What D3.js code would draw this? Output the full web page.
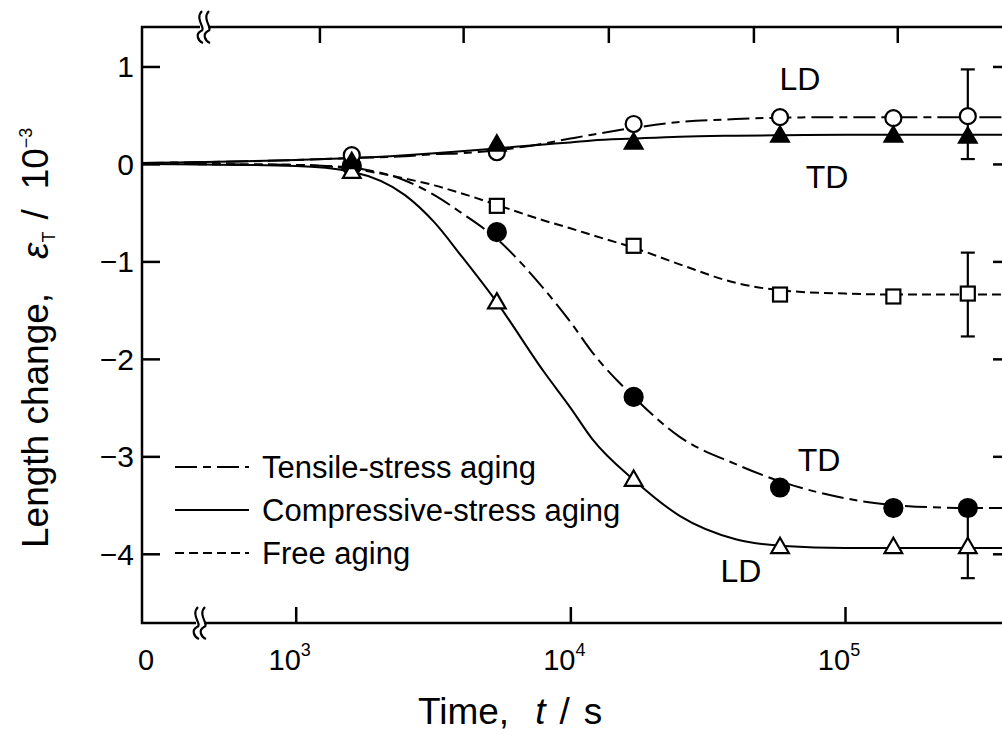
<!DOCTYPE html>
<meta charset="utf-8">
<script src="https://d3js.org/d3.v7.min.js"></script>
<style>
  body { margin: 0; background: #fff; }
  text { font-family: "Liberation Sans", Arial, sans-serif; fill: #000; }
</style>
<div id="chart"></div>
<script>

// measured times (s) of the aging tests
var times = [1600, 5400, 17000, 58000, 150000, 280000];

// measured length change (x 10^-3)
var tensileLD = [0.09, 0.12, 0.41, 0.48, 0.47, 0.49];
var tensileTD = [-0.02, -0.70, -2.39, -3.32, -3.53, -3.53];
var compLD    = [-0.08, -1.42, -3.24, -3.93, -3.93, -3.93];
var compTD    = [0.02, 0.20, 0.22, 0.29, 0.29, 0.28];
var freeAging = [0.00, -0.43, -0.84, -1.34, -1.36, -1.33];

// error bars at the last time
var errTime = 280000;
var errLow  = {tensileLD: 0.05, freeAging: -1.77, compLD: -4.25};
var errHigh = {tensileLD: 0.97, freeAging: -0.91, compLD: -3.57};

// fitted curves
var curveT = [0, 1000, 1600, 2500, 3200, 4000, 5400, 8000, 10000, 12000, 17000, 25000, 40000, 60000, 100000, 150000, 280000, 420000];
var fitTensileLD = [0.01, 0.04, 0.06, 0.08, 0.10, 0.11, 0.14, 0.21, 0.26, 0.30, 0.37, 0.43, 0.46, 0.475, 0.48, 0.48, 0.48, 0.48];
var fitTensileTD = [0.0, -0.01, -0.04, -0.17, -0.32, -0.50, -0.77, -1.28, -1.62, -1.93, -2.39, -2.80, -3.08, -3.27, -3.43, -3.50, -3.53, -3.53];
var fitCompLD    = [0.0, -0.02, -0.08, -0.32, -0.60, -0.94, -1.42, -2.13, -2.50, -2.82, -3.24, -3.61, -3.85, -3.92, -3.94, -3.94, -3.94, -3.94];
var fitCompTD    = [0.01, 0.04, 0.06, 0.09, 0.11, 0.13, 0.16, 0.20, 0.22, 0.24, 0.26, 0.28, 0.29, 0.295, 0.30, 0.30, 0.30, 0.30];
var fitFree      = [0.0, -0.01, -0.05, -0.15, -0.22, -0.30, -0.42, -0.58, -0.66, -0.73, -0.86, -1.03, -1.22, -1.30, -1.33, -1.34, -1.34, -1.34];

var yTicks = [1, 0, -1, -2, -3, -4];
var xTicks = [1e3, 1e4, 1e5];
var topTicks = [1220, 4070, 13750, 46400, 155000];

var W = 1002, H = 734;
var mLeft = 142, mRight = 1011, mTop = 27, mBottom = 623;

var svg = d3.select("#chart").append("svg")
  .attr("width", W).attr("height", H);

var xLog = d3.scaleLog().domain([1e3, 1e5]).range([295.7, 845]);
function X(t) { return t === 0 ? mLeft : xLog(t); }
var y = d3.scaleLinear().domain([-4.71, 1.405]).range([mBottom, mTop]);

svg.append("clipPath").attr("id", "clip")
  .append("rect").attr("x", mLeft).attr("y", mTop)
  .attr("width", mRight - mLeft).attr("height", mBottom - mTop);

// axes (ticks inward)
function styleAxis(g) {
  g.select(".domain").remove();
  g.selectAll(".tick line").attr("stroke", "#000").attr("stroke-width", 2.5);
  g.selectAll(".tick text").remove();
}
svg.append("g").attr("transform", "translate(" + mLeft + ",0)")
  .call(d3.axisLeft(y).tickValues(yTicks).tickSize(-18)).call(styleAxis);
svg.append("g").attr("transform", "translate(" + mRight + ",0)")
  .call(d3.axisRight(y).tickValues(yTicks).tickSize(-18)).call(styleAxis);
svg.append("g").attr("transform", "translate(0," + mBottom + ")")
  .call(d3.axisBottom(xLog).tickValues(xTicks).tickSize(-16)).call(styleAxis);
svg.append("g").attr("transform", "translate(0," + mTop + ")")
  .call(d3.axisTop(xLog).tickValues(topTicks).tickSize(-16)).call(styleAxis);

// frame
svg.append("rect")
  .attr("x", mLeft).attr("y", mTop)
  .attr("width", mRight - mLeft).attr("height", mBottom - mTop)
  .attr("fill", "none").attr("stroke", "#000").attr("stroke-width", 2.5);

// axis breaks
function breakMark(cx, cy) {
  svg.append("rect").attr("x", cx - 4).attr("y", cy - 3).attr("width", 8).attr("height", 6).attr("fill", "#fff");
  [-3, 4].forEach(function(dx) {
    var x0 = cx + dx;
    svg.append("path")
      .attr("d", "M" + (x0 + 1) + "," + (cy - 16) + " C" + (x0 - 7) + "," + (cy - 8) + " " + (x0 + 6) + "," + (cy + 2) + " " + x0 + "," + (cy + 4) +
                 " C" + (x0 - 6) + "," + (cy + 7) + " " + (x0 - 3) + "," + (cy + 14) + " " + (x0 + 2) + "," + (cy + 16))
      .attr("fill", "none").attr("stroke", "#000").attr("stroke-width", 2.2);
  });
}
breakMark(204, mTop);
breakMark(200, mBottom);

// tick labels
svg.selectAll(".ylab").data(yTicks).enter().append("text")
  .attr("x", 134).attr("y", function(d) { return y(d); })
  .attr("dy", "0.36em").attr("text-anchor", "end")
  .style("font-size", "30px")
  .text(function(d) { return d < 0 ? "\u2212" + Math.abs(d) : d; });

svg.append("text").attr("x", X(0) + 4).attr("y", 670)
  .attr("text-anchor", "middle").style("font-size", "29px").text("0");
xTicks.forEach(function(t) {
  var tx = svg.append("text").attr("x", xLog(t) - 6).attr("y", 670)
    .attr("text-anchor", "middle").style("font-size", "29px");
  tx.append("tspan").text("10");
  tx.append("tspan").attr("dy", -14).style("font-size", "18px").text(Math.round(Math.log10(t)));
});

// axis titles
var xt = svg.append("text").attr("x", 418).attr("y", 724)
  .style("font-size", "37px");
xt.append("tspan").text("Time,");
xt.append("tspan").attr("dx", 26).style("font-style", "italic").text("t");
xt.append("tspan").attr("dx", 14).text("/");
xt.append("tspan").attr("dx", 14).text("s");

var yt = svg.append("text").attr("transform", "translate(48,548) rotate(-90)")
  .style("font-size", "37px");
yt.append("tspan").text("Length change,");
yt.append("tspan").attr("dx", 34).style("font-style", "italic").text("\u03b5");
yt.append("tspan").attr("dy", 7).style("font-size", "18px").text("T");
yt.append("tspan").attr("dy", -7).attr("dx", 12).text("/");
yt.append("tspan").attr("dx", 20).text("10");
yt.append("tspan").attr("dy", -16).style("font-size", "18px").text("\u22123");

// curves
var dashTensile = "22,6,8,6", dashFree = "9,5";
var line = d3.line().x(function(d) { return X(d[0]); }).y(function(d) { return y(d[1]); })
  .curve(d3.curveMonotoneX);
var plot = svg.append("g").attr("clip-path", "url(#clip)");
[[fitTensileLD, dashTensile], [fitTensileTD, dashTensile], [fitCompLD, null], [fitCompTD, null], [fitFree, dashFree]]
  .forEach(function(c) {
    plot.append("path")
      .datum(curveT.map(function(t, i) { return [t, c[0][i]]; }))
      .attr("d", line).attr("fill", "none").attr("stroke", "#000").attr("stroke-width", 2)
      .attr("stroke-dasharray", c[1]);
  });

// error bars
Object.keys(errLow).forEach(function(k) {
  var x0 = X(errTime);
  plot.append("line").attr("x1", x0).attr("x2", x0)
    .attr("y1", y(errLow[k])).attr("y2", y(errHigh[k]))
    .attr("stroke", "#000").attr("stroke-width", 2.2);
  [errLow[k], errHigh[k]].forEach(function(v) {
    plot.append("line").attr("x1", x0 - 7).attr("x2", x0 + 7)
      .attr("y1", y(v)).attr("y2", y(v))
      .attr("stroke", "#000").attr("stroke-width", 2.2);
  });
});

// markers
function markers(vals, shape, filled) {
  var g = plot.append("g");
  vals.forEach(function(v, i) {
    var cx = X(times[i]), cy = y(v);
    var m;
    if (shape === "circle") {
      m = g.append("circle").attr("cx", cx).attr("cy", cy).attr("r", filled ? 9 : 8);
    } else if (shape === "square") {
      m = g.append("rect").attr("x", cx - 7).attr("y", cy - 7).attr("width", 14).attr("height", 14);
    } else {
      m = g.append("path").attr("transform", "translate(" + cx + "," + (cy + 1) + ")")
        .attr("d", d3.symbol(d3.symbolTriangle, 135)());
    }
    m.attr("fill", filled ? "#000" : "#fff").attr("stroke", "#000").attr("stroke-width", 2.2);
  });
}
markers(freeAging, "square", false);
markers(tensileTD, "circle", true);
markers(tensileLD, "circle", false);
markers(compLD, "triangle", false);
markers(compTD, "triangle", true);

// direction labels
var notes = [["LD", 0.88, 800], ["TD", -0.13, 827], ["TD", -3.03, 819], ["LD", -4.17, 741]];
notes.forEach(function(n) {
  svg.append("text").attr("x", n[2]).attr("y", y(n[1])).attr("dy", "0.36em")
    .attr("text-anchor", "middle").style("font-size", "32px").text(n[0]);
});

// legend
var legend = [["Tensile-stress aging", dashTensile], ["Compressive-stress aging", null], ["Free aging", dashFree]];
legend.forEach(function(l, i) {
  var ly = 467 + i * 43;
  svg.append("line").attr("x1", 175).attr("x2", 249).attr("y1", ly).attr("y2", ly)
    .attr("stroke", "#000").attr("stroke-width", 2).attr("stroke-dasharray", l[1]);
  svg.append("text").attr("x", 262).attr("y", ly).attr("dy", "0.36em")
    .style("font-size", "31px").text(l[0]);
});

</script>
